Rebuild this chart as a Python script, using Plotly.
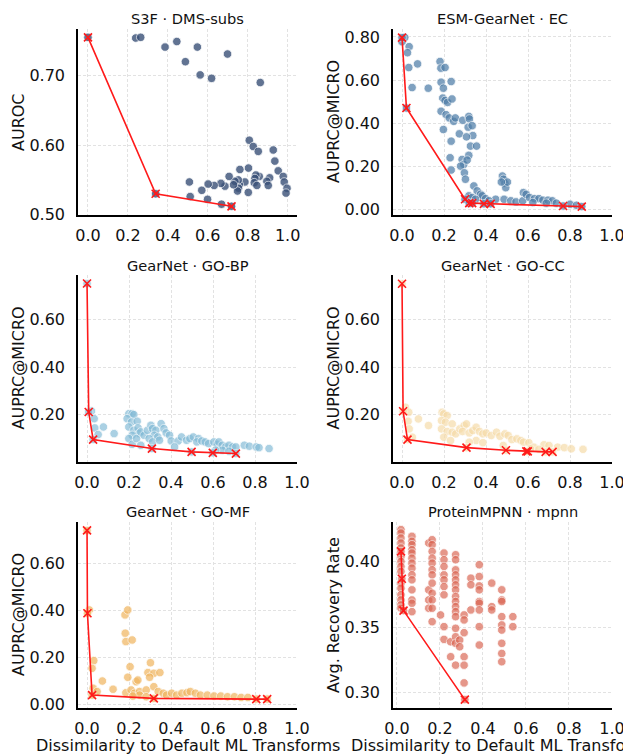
import plotly.graph_objects as go

# page has an 8px body margin: figure drawn at (8, 8)
OFF = 8
W, H = 631 - OFF, 755 - OFF

# ---------------- data ----------------
# Panel 1: S3F · DMS-subs
s3f_x = [0.239, 0.264, 0.445, 0.386, 0.548, 0.699, 0.488, 0.562, 0.619, 0.863,
         0.808, 0.828, 0.853, 0.928, 0.936, 0.953, 0.761, 0.804, 0.978, 0.983,
         0.997, 0.992, 0.910, 0.896, 0.903, 0.858, 0.841, 0.836, 0.833, 0.846,
         0.803, 0.786, 0.758, 0.753, 0.754, 0.749, 0.736, 0.729, 0.707, 0.686,
         0.666, 0.632, 0.602, 0.570, 0.508, 0.512, 0.599, 0.669]
s3f_y = [0.754, 0.755, 0.749, 0.741, 0.741, 0.731, 0.720, 0.701, 0.696, 0.690,
         0.607, 0.598, 0.591, 0.593, 0.577, 0.563, 0.565, 0.567, 0.555, 0.547,
         0.538, 0.531, 0.553, 0.548, 0.542, 0.555, 0.557, 0.552, 0.546, 0.542,
         0.532, 0.547, 0.543, 0.550, 0.538, 0.534, 0.548, 0.543, 0.555, 0.541,
         0.545, 0.542, 0.544, 0.535, 0.547, 0.526, 0.522, 0.515]
s3f_front_x = [0.0, 0.339, 0.719]
s3f_front_y = [0.755, 0.530, 0.512]

# Panel 2: ESM-GearNet · EC
ec_x = [0.013, 0.0, 0.034, 0.026, 0.032, 0.074, 0.048, 0.125, 0.181, 0.185,
        0.205, 0.186, 0.234, 0.197, 0.194, 0.205, 0.217, 0.238, 0.186, 0.210,
        0.225, 0.246, 0.254, 0.197, 0.234, 0.229, 0.234, 0.273, 0.289, 0.318,
        0.321, 0.315, 0.334, 0.337, 0.307, 0.326, 0.355, 0.318, 0.286, 0.294,
        0.279, 0.310, 0.297, 0.302, 0.342, 0.358, 0.374, 0.382, 0.318, 0.334,
        0.350, 0.398, 0.446, 0.414, 0.478, 0.483, 0.490, 0.494, 0.502, 0.473,
        0.486, 0.518, 0.543, 0.575, 0.578, 0.591, 0.607, 0.631, 0.652, 0.671,
        0.695, 0.716, 0.623, 0.687, 0.735, 0.800, 0.831]
ec_y = [0.798, 0.778, 0.755, 0.727, 0.658, 0.675, 0.565, 0.562, 0.686, 0.655,
        0.658, 0.590, 0.593, 0.562, 0.516, 0.505, 0.496, 0.512, 0.455, 0.439,
        0.424, 0.408, 0.424, 0.370, 0.316, 0.239, 0.182, 0.350, 0.413, 0.431,
        0.419, 0.381, 0.388, 0.342, 0.336, 0.293, 0.293, 0.250, 0.231, 0.208,
        0.200, 0.228, 0.169, 0.139, 0.108, 0.085, 0.069, 0.062, 0.062, 0.054,
        0.046, 0.049, 0.046, 0.039, 0.154, 0.139, 0.120, 0.100, 0.126, 0.126,
        0.046, 0.039, 0.034, 0.039, 0.077, 0.069, 0.054, 0.049, 0.049, 0.042,
        0.042, 0.039, 0.031, 0.028, 0.028, 0.023, 0.018]
ec_front_x = [0.0, 0.021, 0.300, 0.320, 0.334, 0.390, 0.422, 0.767, 0.856]
ec_front_y = [0.797, 0.470, 0.046, 0.028, 0.028, 0.025, 0.025, 0.015, 0.012]

# Panel 3: GearNet · GO-BP
bp_x = [0.021, 0.034, 0.037, 0.053, 0.078, 0.129, 0.199, 0.215, 0.223, 0.191,
        0.212, 0.239, 0.199, 0.223, 0.243, 0.248, 0.215, 0.199, 0.215, 0.236,
        0.256, 0.272, 0.288, 0.304, 0.312, 0.328, 0.353, 0.366, 0.320, 0.337,
        0.296, 0.312, 0.345, 0.377, 0.393, 0.401, 0.434, 0.450, 0.474, 0.490,
        0.506, 0.531, 0.523, 0.547, 0.563, 0.579, 0.604, 0.620, 0.628, 0.644,
        0.660, 0.676, 0.693, 0.709, 0.749, 0.773, 0.806, 0.819, 0.867, 0.644,
        0.676, 0.612, 0.417, 0.256]
bp_y = [0.215, 0.183, 0.144, 0.116, 0.148, 0.120, 0.204, 0.204, 0.200, 0.183,
        0.169, 0.172, 0.148, 0.134, 0.144, 0.120, 0.113, 0.099, 0.075, 0.099,
        0.127, 0.113, 0.134, 0.155, 0.141, 0.134, 0.162, 0.141, 0.113, 0.106,
        0.099, 0.085, 0.092, 0.123, 0.113, 0.089, 0.089, 0.106, 0.092, 0.099,
        0.106, 0.099, 0.085, 0.089, 0.085, 0.078, 0.085, 0.075, 0.085, 0.071,
        0.064, 0.071, 0.064, 0.064, 0.071, 0.067, 0.064, 0.061, 0.057, 0.050,
        0.046, 0.050, 0.064, 0.071]
bp_front_x = [0.0, 0.008, 0.029, 0.309, 0.498, 0.599, 0.709]
bp_front_y = [0.752, 0.211, 0.095, 0.057, 0.043, 0.039, 0.036]

# Panel 4: GearNet · GO-CC
cc_x = [0.016, 0.032, 0.029, 0.034, 0.049, 0.078, 0.126, 0.191, 0.199, 0.215,
        0.188, 0.207, 0.239, 0.188, 0.215, 0.239, 0.199, 0.231, 0.256, 0.275,
        0.296, 0.307, 0.288, 0.320, 0.337, 0.353, 0.369, 0.385, 0.401, 0.425,
        0.450, 0.466, 0.490, 0.506, 0.523, 0.547, 0.566, 0.579, 0.604, 0.628,
        0.676, 0.700, 0.741, 0.773, 0.806, 0.862, 0.353, 0.385, 0.320, 0.482,
        0.612, 0.652]
cc_y = [0.231, 0.210, 0.172, 0.140, 0.105, 0.182, 0.154, 0.210, 0.203, 0.196,
        0.175, 0.168, 0.161, 0.140, 0.129, 0.126, 0.105, 0.091, 0.119, 0.140,
        0.154, 0.161, 0.129, 0.123, 0.133, 0.147, 0.129, 0.119, 0.123, 0.112,
        0.126, 0.109, 0.119, 0.112, 0.095, 0.098, 0.091, 0.084, 0.082, 0.063,
        0.073, 0.070, 0.063, 0.061, 0.056, 0.054, 0.091, 0.082, 0.084, 0.070,
        0.056, 0.054]
cc_front_x = [0.0, 0.005, 0.026, 0.307, 0.495, 0.592, 0.599, 0.684, 0.717]
cc_front_y = [0.751, 0.214, 0.095, 0.061, 0.050, 0.045, 0.045, 0.043, 0.043]

# Panel 5: GearNet · GO-MF
mf_x = [0.011, 0.032, 0.024, 0.029, 0.048, 0.073, 0.124, 0.181, 0.194, 0.182,
        0.185, 0.215, 0.205, 0.194, 0.234, 0.242, 0.185, 0.210, 0.226, 0.250,
        0.282, 0.290, 0.302, 0.318, 0.298, 0.347, 0.318, 0.339, 0.363, 0.379,
        0.403, 0.427, 0.452, 0.476, 0.492, 0.516, 0.540, 0.573, 0.605, 0.637,
        0.669, 0.702, 0.734, 0.766, 0.250, 0.282, 0.218]
mf_y = [0.401, 0.185, 0.152, 0.067, 0.053, 0.098, 0.063, 0.380, 0.401, 0.302,
        0.266, 0.273, 0.159, 0.114, 0.095, 0.102, 0.048, 0.060, 0.046, 0.053,
        0.060, 0.134, 0.176, 0.131, 0.114, 0.134, 0.074, 0.053, 0.046, 0.038,
        0.046, 0.038, 0.046, 0.048, 0.053, 0.046, 0.038, 0.038, 0.034, 0.034,
        0.031, 0.031, 0.028, 0.028, 0.038, 0.031, 0.034]
mf_front_x = [0.0, 0.002, 0.024, 0.318, 0.806, 0.858]
mf_front_y = [0.740, 0.387, 0.038, 0.024, 0.021, 0.021]

# Panel 6: ProteinMPNN · mpnn
mp_x = ([0.019] * 15 + [0.070] * 14 + [0.148] * 4 + [0.164] * 12 + [0.203]
        + [0.219] * 9 + [0.250] * 2 + [0.273] * 16 + [0.292] * 2 + [0.3125] * 6
        + [0.344] * 3 + [0.383] * 9 + [0.441] * 3 + [0.4875] * 9 + [0.539] * 2)
mp_y = [0.4242, 0.4216, 0.4178, 0.4140, 0.4102, 0.4038, 0.4000, 0.3962, 0.3924, 0.3835,
        0.3796, 0.3746, 0.3707, 0.3669, 0.3644,
        0.4191, 0.4153, 0.4127, 0.4089, 0.4064, 0.4025, 0.3987, 0.3949, 0.3898, 0.3860,
        0.3784, 0.3707, 0.3682, 0.3618,
        0.4140, 0.3784, 0.3707, 0.3644,
        0.4165, 0.4127, 0.4076, 0.4025, 0.3987, 0.3936, 0.3898, 0.3835, 0.3758, 0.3707,
        0.3644, 0.3542,
        0.3593,
        0.4064, 0.4013, 0.3962, 0.3898, 0.3860, 0.3809, 0.3746, 0.3504, 0.3407,
        0.3389, 0.3275,
        0.4051, 0.4013, 0.3936, 0.3898, 0.3860, 0.3822, 0.3784, 0.3733, 0.3695, 0.3656,
        0.3618, 0.3580, 0.3491, 0.3427, 0.3377, 0.3211,
        0.3402, 0.3351,
        0.3593, 0.3555, 0.3458, 0.3275, 0.3211, 0.3076,
        0.3873, 0.3822, 0.3631,
        0.3975, 0.3885, 0.3814, 0.3784, 0.3695, 0.3682, 0.3631, 0.3504, 0.3364,
        0.3835, 0.3656, 0.3631,
        0.3784, 0.3707, 0.3695, 0.3580, 0.3517, 0.3478, 0.3377, 0.3300, 0.3237,
        0.3580, 0.3504]
mp_front_x = [0.019, 0.023, 0.031, 0.316]
mp_front_y = [0.4076, 0.3868, 0.3626, 0.2949]

titles = ["S3F · DMS-subs", "ESM-GearNet · EC", "GearNet · GO-BP",
          "GearNet · GO-CC", "GearNet · GO-MF", "ProteinMPNN · mpnn"]
ylabels = ["AUROC", "AUPRC@MICRO", "AUPRC@MICRO", "AUPRC@MICRO", "AUPRC@MICRO",
           "Avg. Recovery Rate"]
xlabel = "Dissimilarity to Default ML Transforms"
xtick_vals = [0.0, 0.2, 0.4, 0.6, 0.8, 1.0]
ytick_vals = [[0.50, 0.60, 0.70], [0.0, 0.2, 0.4, 0.6, 0.8], [0.2, 0.4, 0.6],
              [0.2, 0.4, 0.6], [0.0, 0.2, 0.4, 0.6], [0.30, 0.35, 0.40]]

panels = [
    (s3f_x, s3f_y, s3f_front_x, s3f_front_y),
    (ec_x, ec_y, ec_front_x, ec_front_y),
    (bp_x, bp_y, bp_front_x, bp_front_y),
    (cc_x, cc_y, cc_front_x, cc_front_y),
    (mf_x, mf_y, mf_front_x, mf_front_y),
    (mp_x, mp_y, mp_front_x, mp_front_y),
]

# ---------------- styling ----------------
colors = ["#3a5178", "#4f7ea8", "#83bbd6", "#f6dba8", "#f0b662", "#da6552"]
opacities = [0.8, 0.72, 0.68, 0.68, 0.72, 0.68]
xranges = [[-0.05, 1.047], [-0.043, 1.0], [-0.043, 1.0], [-0.043, 1.0],
           [-0.043, 1.0], [-0.018, 1.0]]
yranges = [[0.4995, 0.767], [-0.027, 0.837], [0.0005, 0.788], [0.0005, 0.788],
           [-0.017, 0.776], [0.2885, 0.430]]
# panel boxes in screenshot pixels
col_px = [(78, 297), (393, 612)]
row_px = [(29, 215), (275, 462), (522, 708)]
FONT = "DejaVu Sans"


def px(v):
    return (v - OFF) / W


def py(v):
    return 1 - (v - OFF) / H


fig = go.Figure()
layout = dict(
    template="none",
    width=W, height=H, margin=dict(l=0, r=0, t=0, b=0, pad=0, autoexpand=False),
    paper_bgcolor="white", plot_bgcolor="white", showlegend=False,
    font=dict(family=FONT, color="#111111"),
)
annotations = []

for i, (sx, sy, fx, fy) in enumerate(panels):
    r, c = divmod(i, 2)
    xa = "x" if i == 0 else f"x{i+1}"
    ya = "y" if i == 0 else f"y{i+1}"
    x0, x1 = col_px[c]
    yt, yb = row_px[r]
    fig.add_trace(go.Scatter(
        x=sx + fx, y=sy + fy, mode="markers", xaxis=xa, yaxis=ya,
        marker=dict(size=8.5, color=colors[i], opacity=opacities[i],
                    line=dict(color="white", width=0.8)),
        hoverinfo="skip"))
    fig.add_trace(go.Scatter(
        x=fx, y=fy, mode="lines+markers", xaxis=xa, yaxis=ya,
        line=dict(color="#ff1a1a", width=1.6),
        marker=dict(symbol="x-thin", size=8, color="#ff1a1a",
                    line=dict(color="#ff1a1a", width=1.6)),
        hoverinfo="skip"))
    common = dict(automargin=False, showline=True, linecolor="black", linewidth=1.6,
                  showgrid=True, gridcolor="#e2e2e2", griddash="3px,2px", gridwidth=0.8,
                  zeroline=False, ticks="", ticklen=0,
                  tickfont=dict(size=16, family=FONT, color="#111111"))
    axx = dict(domain=[px(x0), px(x1)], range=xranges[i], anchor=ya,
               tickvals=xtick_vals, tickformat=".1f", ticklabelstandoff=5, **common)
    ayy = dict(domain=[py(yb), py(yt)], range=yranges[i], anchor=xa,
               tickvals=ytick_vals[i], tickformat=".2f", ticklabelstandoff=8, **common)
    layout["xaxis" if i == 0 else f"xaxis{i+1}"] = axx
    layout["yaxis" if i == 0 else f"yaxis{i+1}"] = ayy
    cx = (x0 + x1) / 2
    annotations.append(dict(
        text=titles[i], x=px(cx), y=py(yt - 10), xref="paper", yref="paper",
        xanchor="center", yanchor="middle", showarrow=False,
        font=dict(size=14.6, family=FONT, color="#111111")))
    annotations.append(dict(
        text=ylabels[i], x=px(x0 - 60), y=py((yt + yb) / 2),
        xref="paper", yref="paper", xanchor="center", yanchor="middle",
        textangle=-90, showarrow=False,
        font=dict(size=16, family=FONT, color="#111111")))
    if r == 2:
        annotations.append(dict(
            text=xlabel, x=px(cx), y=py(745), xref="paper", yref="paper",
            xanchor="center", yanchor="middle", showarrow=False,
            font=dict(size=16, family=FONT, color="#111111")))

layout["annotations"] = annotations
fig.update_layout(**layout)
fig.write_html("out.html")
